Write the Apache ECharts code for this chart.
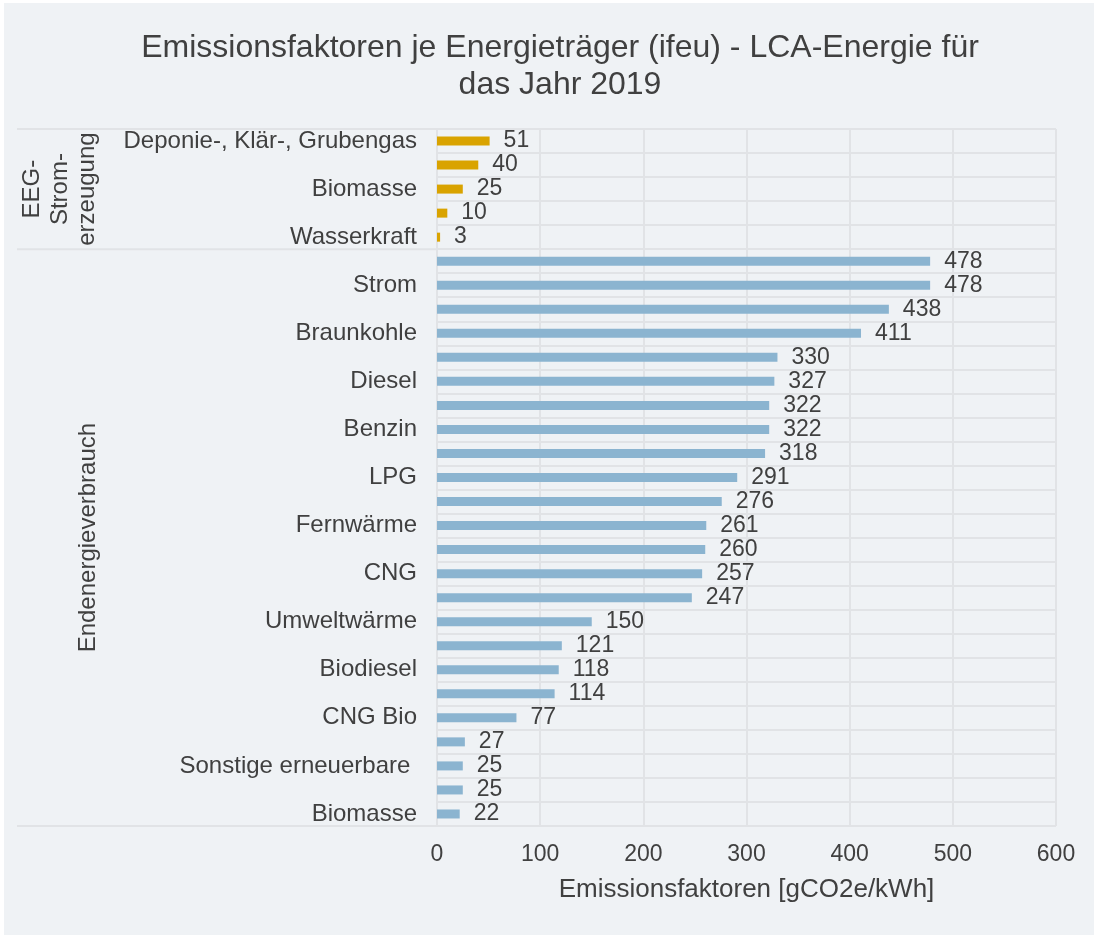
<!DOCTYPE html>
<html><head><meta charset="utf-8">
<script src="https://cdn.jsdelivr.net/npm/echarts@6/dist/echarts.min.js"></script>
<style>html,body{margin:0;padding:0;background:#fff}#c{width:1098px;height:938px}</style>
</head><body><div id="c"></div>
<script>
// Categories (only every other label is shown in the reference; hidden ones left blank)
const categories = [
  'Deponie-, Klär-, Grubengas','', 'Biomasse','', 'Wasserkraft',
  '', 'Strom', '', 'Braunkohle', '', 'Diesel', '', 'Benzin', '', 'LPG', '', 'Fernwärme',
  '', 'CNG', '', 'Umweltwärme', '', 'Biodiesel', '', 'CNG Bio', '', 'Sonstige erneuerbare ', '', 'Biomasse'
];
const eegValues = [51, 40, 25, 10, 3];
const endValues = [478, 478, 438, 411, 330, 327, 322, 322, 318, 291, 276, 261, 260, 257, 247, 150, 121, 118, 114, 77, 27, 25, 25, 22];
const groups = [
  { name: 'EEG-\nStrom-\nerzeugung', count: eegValues.length },
  { name: 'Endenergieverbrauch', count: endValues.length }
];
const xTicks = [0, 600, 100];

const eegSeries = eegValues.concat(endValues.map(() => '-'));
const endSeries = eegValues.map(() => '-').concat(endValues);

const FONT = '"Liberation Sans", Arial, sans-serif';
const TXT = '#404040';
const GRID = '#e1e3e6';

const chart = echarts.init(document.getElementById('c'), null, { renderer: 'canvas' });
const labelCfg = { show: true, position: 'right', distance: 14, fontSize: 23, color: TXT, fontFamily: FONT };
const option = {
  backgroundColor: '#ffffff',
  animation: false,
  textStyle: { fontFamily: FONT },
  title: {
    text: 'Emissionsfaktoren je Energieträger (ifeu) - LCA-Energie für\ndas Jahr 2019',
    left: 555, top: 25, textAlign: 'center',
    textStyle: { fontSize: 32, fontWeight: 'normal', color: TXT, fontFamily: FONT, lineHeight: 37 }
  },
  grid: { left: 437, right: 42, top: 129, bottom: 112, containLabel: false },
  xAxis: {
    type: 'value', min: xTicks[0], max: xTicks[1], interval: xTicks[2],
    axisLine: { show: false }, axisTick: { show: false },
    axisLabel: { fontSize: 23, color: TXT, margin: 17, fontFamily: FONT },
    splitLine: { show: true, lineStyle: { color: GRID, width: 2 } },
    name: 'Emissionsfaktoren [gCO2e/kWh]', nameLocation: 'middle', nameGap: 51,
    nameTextStyle: { fontSize: 26, color: TXT, fontFamily: FONT }
  },
  yAxis: {
    type: 'category', inverse: true, data: categories,
    axisLine: { show: true, lineStyle: { color: GRID, width: 2 } },
    axisTick: { show: false },
    axisLabel: { interval: 1, fontSize: 24, color: TXT, margin: 20, fontFamily: FONT },
    splitLine: { show: true, interval: 0, lineStyle: { color: GRID, width: 2 } }
  },
  series: [
    { type: 'bar', data: eegSeries, barWidth: 9, barGap: '-100%', itemStyle: { color: '#d9a300' }, label: labelCfg },
    { type: 'bar', data: endSeries, barWidth: 9, barGap: '-100%', itemStyle: { color: '#8bb4d0' }, label: labelCfg }
  ]
};
chart.setOption(option);

// group separators and group names on the left
const yAt = i => chart.convertToPixel({ yAxisIndex: 0 }, i);
const step = yAt(1) - yAt(0);
const graphics = [
  { type: 'rect', z: -100, silent: true, shape: { x: 4, y: 3, width: 1090, height: 932 }, style: { fill: '#eff2f5' } }
];
let start = 0;
const xLeft = 17, xAxisPx = chart.convertToPixel({ xAxisIndex: 0 }, 0);
const xName = [60, 88];
graphics.push({ type: 'line', shape: { x1: xLeft, y1: yAt(0) - step / 2, x2: xAxisPx, y2: yAt(0) - step / 2 }, style: { stroke: GRID, lineWidth: 2 } });
groups.forEach((g, gi) => {
  const end = start + g.count - 1;
  const yb = yAt(end) + step / 2;
  graphics.push({ type: 'line', shape: { x1: xLeft, y1: yb, x2: xAxisPx, y2: yb }, style: { stroke: GRID, lineWidth: 2 } });
  const yc = (yAt(start) + yAt(end)) / 2;
  graphics.push({
    type: 'text', x: xName[gi], y: yc, rotation: Math.PI / 2,
    style: { text: g.name, fontSize: 24, fill: TXT, fontFamily: FONT, align: 'center', verticalAlign: 'middle', lineHeight: 27.5 }
  });
  start = end + 1;
});
chart.setOption({ graphic: graphics });
</script></body></html>
